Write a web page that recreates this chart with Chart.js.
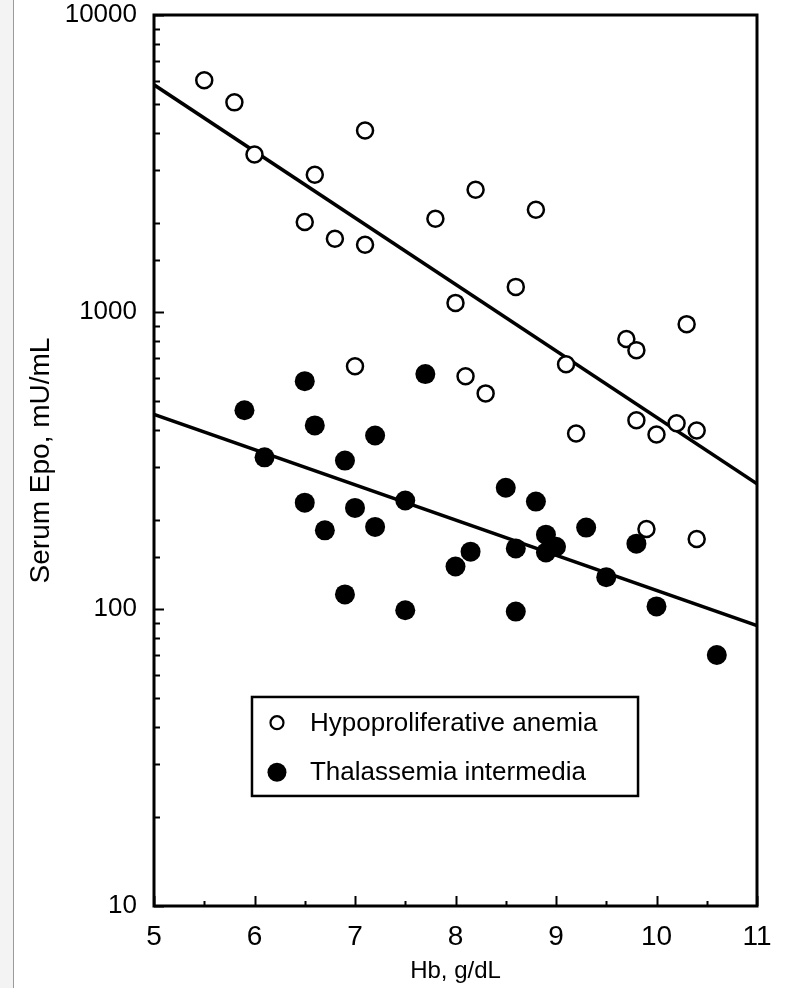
<!DOCTYPE html>
<html>
<head>
<meta charset="utf-8">
<script src="https://cdn.jsdelivr.net/npm/chart.js@4"></script>
<style>
  html, body { margin: 0; padding: 0; background: #fff; }
  #wrap { position: relative; width: 787px; height: 988px; }
  #edge { position: absolute; left: 0; top: 0; width: 13px; height: 988px;
          background: #f3f3f3; border-right: 1px solid #9a9a9a; }
  canvas { position: absolute; left: 0; top: 0; }
</style>
</head>
<body>
<div id="wrap">
  <div id="edge"></div>
  <canvas id="epoChart" width="787" height="988"></canvas>
</div>
<script>
// Hb (g/dL) and serum Epo (mU/mL)
var hypoHb  = [5.5, 5.8, 6.0, 6.5, 6.6, 6.8, 7.1, 7.1, 7.0, 7.8, 8.0, 8.1, 8.2, 8.3,
               8.6, 8.8, 9.1, 9.2, 9.7, 9.8, 9.8, 9.9, 10.0, 10.2, 10.3, 10.4, 10.4];
var hypoEpo = [6030, 5080, 3390, 2010, 2900, 1765, 4085, 1685, 657, 2060, 1073, 608, 2580, 532,
               1215, 2210, 667, 390, 811, 744, 432, 186, 387, 422, 910, 399, 172];

var thalHb  = [5.9, 6.1, 6.5, 6.5, 6.6, 6.7, 6.9, 6.9, 7.0, 7.2, 7.2, 7.5, 7.5, 7.7,
               8.0, 8.15, 8.5, 8.6, 8.6, 8.8, 8.9, 8.9, 9.0, 9.3, 9.5, 9.8, 10.0, 10.6];
var thalEpo = [467, 324, 585, 228, 415, 184, 316, 112, 219, 384, 189, 232, 99, 618,
               139, 156, 256, 160, 98, 230, 178, 155, 162, 188, 128, 166, 102, 70];

// regression line end points (x = 5 and x = 11)
var fitHb      = [5, 11];
var hypoFitEpo = [5820, 264];
var thalFitEpo = [452, 88];

var seriesNames = ['Hypoproliferative anemia', 'Thalassemia intermedia'];
var xTitle = 'Hb, g/dL';
var yTitle = 'Serum Epo, mU/mL';

function pts(xs, ys) {
    return xs.map(function(x, i) { return {x: x, y: ys[i]}; });
}

var FONT = "'Liberation Sans', Arial, Helvetica, sans-serif";

// frame + inward tick marks
var frameTicks = {
    id: 'frameTicks',
    afterDatasetsDraw: function(chart) {
        var ctx = chart.ctx, a = chart.chartArea;
        var xs = chart.scales.x, ys = chart.scales.y;
        ctx.save();
        ctx.strokeStyle = '#000';
        ctx.lineWidth = 2;
        ys.ticks.forEach(function(t) {
            var p = Math.round(ys.getPixelForValue(t.value)) + 0.5;
            var big = Math.abs(Math.log10(t.value) % 1) < 1e-6;
            ctx.beginPath();
            ctx.moveTo(a.left, p);
            ctx.lineTo(a.left + (big ? 10 : 6), p);
            ctx.stroke();
        });
        xs.ticks.forEach(function(t) {
            var p = Math.round(xs.getPixelForValue(t.value)) + 0.5;
            var big = Math.abs(t.value % 1) < 1e-6;
            ctx.beginPath();
            ctx.moveTo(p, a.bottom);
            ctx.lineTo(p, a.bottom - (big ? 10 : 5));
            ctx.stroke();
        });
        ctx.lineWidth = 3;
        ctx.strokeRect(a.left, a.top, a.right - a.left, a.bottom - a.top);
        ctx.restore();
    }
};

// boxed legend inside the plot
var boxLegend = {
    id: 'boxLegend',
    afterDraw: function(chart) {
        var ctx = chart.ctx, a = chart.chartArea;
        var w = a.right - a.left, h = a.bottom - a.top;
        var l = a.left + 0.1625 * w, r = a.left + 0.8027 * w;
        var t = a.top + 0.7654 * h, b = a.top + 0.8765 * h;
        ctx.save();
        ctx.fillStyle = '#fff';
        ctx.fillRect(l, t, r - l, b - t);
        ctx.strokeStyle = '#000';
        ctx.lineWidth = 2.5;
        ctx.strokeRect(l, t, r - l, b - t);
        var rows = [t + 0.26 * (b - t), t + 0.76 * (b - t)];
        var cx = l + 25;
        ctx.font = '25px ' + FONT;
        ctx.textBaseline = 'middle';
        ctx.fillStyle = '#000';
        rows.forEach(function(y, i) {
            ctx.beginPath();
            if (i === 0) {
                ctx.arc(cx, y, 6.5, 0, Math.PI * 2);
                ctx.lineWidth = 2.2;
                ctx.stroke();
            } else {
                ctx.arc(cx, y, 9.5, 0, Math.PI * 2);
                ctx.fill();
            }
            ctx.save();
            ctx.translate(l + 58, y);
            ctx.scale(1.04, 1);
            ctx.fillText(seriesNames[i], 0, 1);
            ctx.restore();
        });
        ctx.restore();
    }
};

new Chart(document.getElementById('epoChart'), {
    type: 'scatter',
    data: {
        datasets: [
            {
                label: seriesNames[0],
                data: pts(hypoHb, hypoEpo),
                pointRadius: 8,
                pointBorderWidth: 2.5,
                pointBackgroundColor: '#fff',
                pointBorderColor: '#000',
                order: 1
            },
            {
                label: seriesNames[1],
                data: pts(thalHb, thalEpo),
                pointRadius: 10,
                pointBorderWidth: 0,
                pointBackgroundColor: '#000',
                pointBorderColor: '#000',
                order: 1
            },
            {
                type: 'line',
                data: pts(fitHb, hypoFitEpo),
                borderColor: '#000',
                borderWidth: 3.5,
                pointRadius: 0,
                fill: false,
                order: 2
            },
            {
                type: 'line',
                data: pts(fitHb, thalFitEpo),
                borderColor: '#000',
                borderWidth: 3.5,
                pointRadius: 0,
                fill: false,
                order: 2
            }
        ]
    },
    options: {
        responsive: false,
        animation: false,
        layout: { padding: { top: 15, right: 30, left: 0, bottom: 0 } },
        plugins: {
            legend: { display: false },
            tooltip: { enabled: false }
        },
        scales: {
            x: {
                type: 'linear',
                min: 5,
                max: 11,
                border: { display: false },
                grid: { display: false, drawTicks: false },
                ticks: {
                    stepSize: 0.5,
                    autoSkip: false,
                    maxRotation: 0,
                    padding: 14,
                    color: '#000',
                    font: { family: FONT, size: 28 },
                    callback: function(v) { return v % 1 === 0 ? String(v) : ''; }
                },
                title: {
                    display: true,
                    text: xTitle,
                    color: '#000',
                    font: { family: FONT, size: 24 },
                    padding: { top: 0, bottom: 2 }
                },
                afterFit: function(s) {
                    s.height = 82;
                    s.paddingLeft = 0;
                    s.paddingRight = 0;
                }
            },
            y: {
                type: 'logarithmic',
                min: 10,
                max: 10000,
                border: { display: false },
                grid: { display: false, drawTicks: false },
                ticks: {
                    autoSkip: false,
                    padding: 17,
                    color: '#000',
                    font: { family: FONT, size: 26 },
                    callback: function(v) {
                        return [10, 100, 1000, 10000].indexOf(v) >= 0 ? String(v) : '';
                    }
                },
                title: {
                    display: true,
                    text: yTitle,
                    color: '#000',
                    font: { family: FONT, size: 28 },
                    padding: { top: 24, bottom: 0 }
                },
                afterFit: function(s) {
                    s.width = 154;
                    s.paddingTop = 0;
                    s.paddingBottom = 0;
                }
            }
        }
    },
    plugins: [frameTicks, boxLegend]
});
</script>
</body>
</html>
